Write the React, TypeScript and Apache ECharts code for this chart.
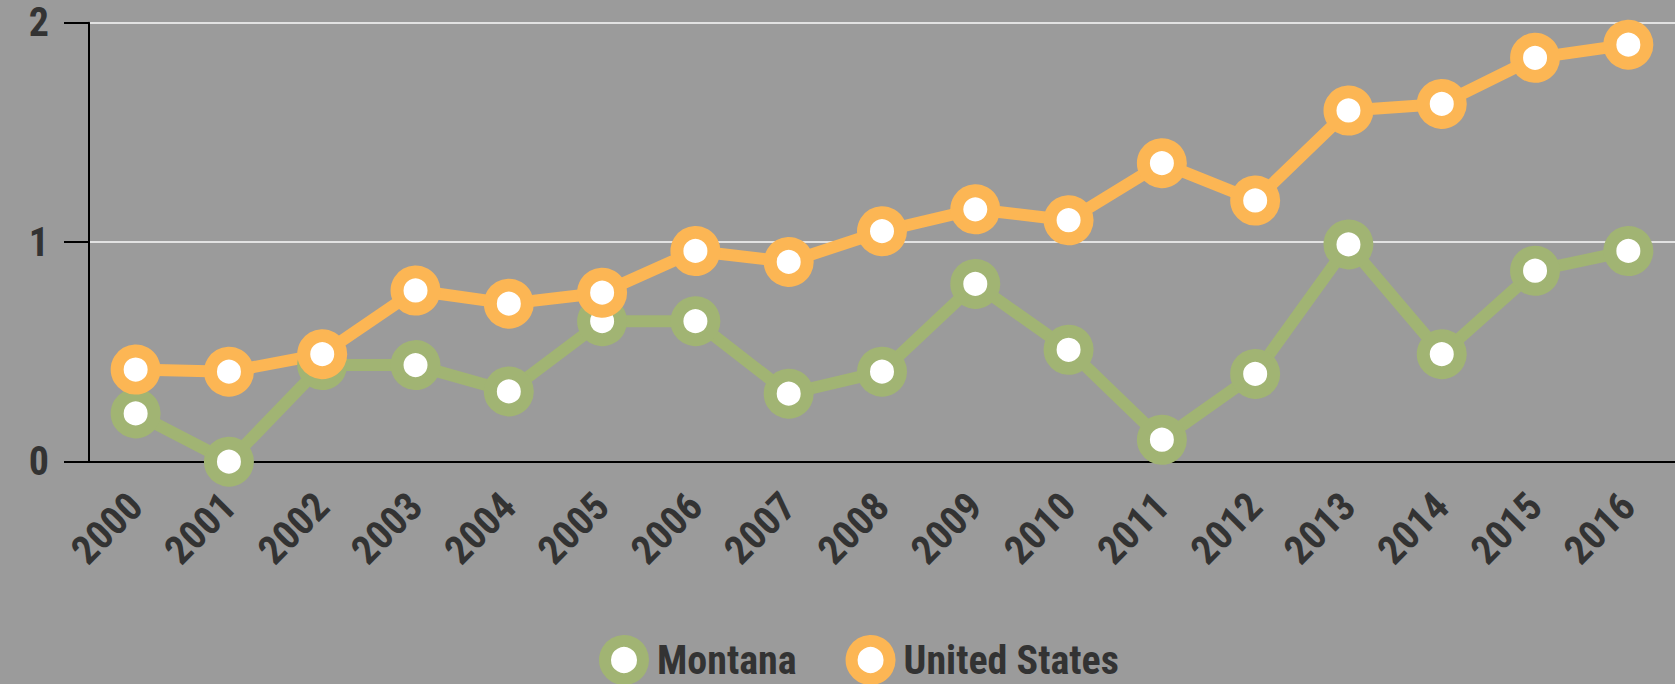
import React, { useEffect, useRef } from "react";
import * as echarts from "echarts";

const years = ["2000","2001","2002","2003","2004","2005","2006","2007","2008","2009","2010","2011","2012","2013","2014","2015","2016"];
const montana = [0.22, 0.0, 0.44, 0.44, 0.32, 0.64, 0.64, 0.31, 0.41, 0.81, 0.51, 0.10, 0.40, 0.99, 0.49, 0.87, 0.96];
const unitedStates = [0.42, 0.41, 0.49, 0.78, 0.72, 0.77, 0.96, 0.91, 1.05, 1.15, 1.10, 1.36, 1.19, 1.60, 1.63, 1.84, 1.90];
const yTicks = { min: 0, max: 2, interval: 1 };

const GREEN = "#a1b473";
const ORANGE = "#fcb654";
const FONT = "'Roboto Condensed', 'Liberation Sans Narrow', 'Arial Narrow', Roboto, sans-serif";

export default function App() {
  const ref = useRef<HTMLDivElement>(null);
  useEffect(() => {
    if (!ref.current) return;
    const chart = echarts.init(ref.current, undefined, { renderer: "svg" });
    const mkSeries = (name: string, data: number[], color: string) => ({
      name,
      type: "line",
      data,
      symbol: "circle",
      symbolSize: 37,
      lineStyle: { color, width: 12 },
      itemStyle: { color: "#ffffff", borderColor: color, borderWidth: 13 },
      emphasis: { disabled: true },
    });
    chart.setOption({
      animation: false,
      backgroundColor: "#9b9b9b",
      grid: { left: 89, top: 22.7, width: 1596, height: 439, containLabel: false },
      legend: {
        left: 594,
        top: 630,
        icon: "circle",
        itemWidth: 38,
        itemHeight: 38,
        itemGap: 49,
        textStyle: {
          fontFamily: FONT,
          fontWeight: "bold",
          fontSize: 40,
          color: "#333333",
          lineHeight: 40,
          padding: [0, 0, 0, 9],
        },
        data: [
          { name: "Montana", itemStyle: { color: "#ffffff", borderColor: GREEN, borderWidth: 12 } },
          { name: "United States", itemStyle: { color: "#ffffff", borderColor: ORANGE, borderWidth: 12 } },
        ],
      },
      xAxis: {
        type: "category",
        data: years,
        boundaryGap: true,
        axisLine: { lineStyle: { color: "#000000", width: 2 } },
        axisTick: { alignWithLabel: true, length: 25, lineStyle: { color: "#000000", width: 2 } },
        axisLabel: {
          rotate: 45,
          margin: 38,
          interval: 0,
          fontFamily: FONT,
          fontWeight: "bold",
          fontSize: 40,
          color: "#333333",
        },
        splitLine: { show: false },
      },
      yAxis: {
        type: "value",
        min: yTicks.min,
        max: yTicks.max,
        interval: yTicks.interval,
        axisLine: { show: true, lineStyle: { color: "#000000", width: 2 } },
        axisTick: { show: true, length: 25, lineStyle: { color: "#000000", width: 2 } },
        axisLabel: {
          margin: 40,
          fontFamily: FONT,
          fontWeight: "bold",
          fontSize: 40,
          color: "#333333",
        },
        splitLine: { show: true, lineStyle: { color: "#e2e2e2", width: 2 } },
      },
      series: [mkSeries("Montana", montana, GREEN), mkSeries("United States", unitedStates, ORANGE)],
    });
    return () => chart.dispose();
  }, []);
  return <div ref={ref} style={{ position: "fixed", left: 0, top: 0, width: 1675, height: 684 }} />;
}
